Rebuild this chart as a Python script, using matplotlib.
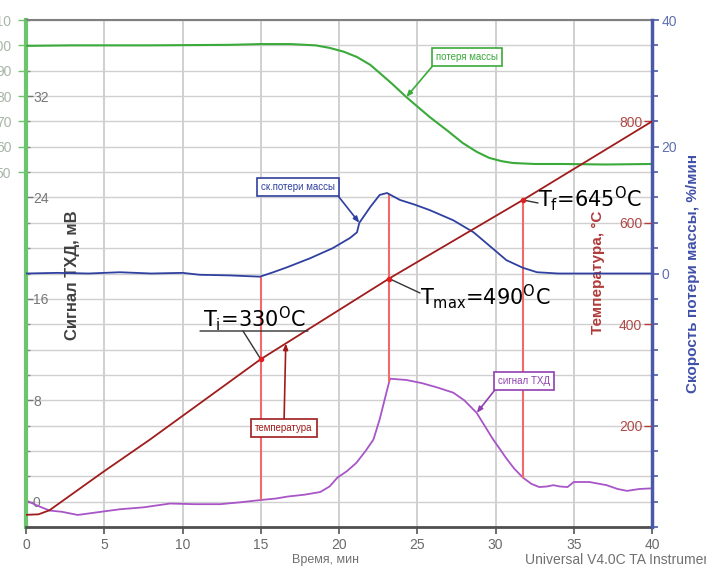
import numpy as np
import matplotlib
matplotlib.use("Agg")
import matplotlib.pyplot as plt
from matplotlib.ticker import MultipleLocator

# ---------------- data ----------------
time_mass = [0, 3, 8, 13, 15, 16.9, 18.5, 19.4, 20.3, 21.15, 22.0, 22.6, 23.4, 24.3,
             25.8, 27.0, 27.9, 28.8, 29.6, 30.4, 31.1, 32.5, 34.3, 37, 40]
mass = [99.8, 100.0, 100.0, 100.2, 100.5, 100.5, 100.0, 99.0, 97.5, 95.4, 92.3, 89.1,
        84.8, 79.6, 71.7, 66.0, 61.5, 58.0, 55.6, 54.3, 53.6, 53.2, 53.2, 53.0, 53.2]

time_dtg = [0, 2, 4, 6, 8, 10, 11.1, 13, 14.95, 15.8, 16.7, 18.15, 19.6, 20.7, 21.15,
            21.3, 22.0, 22.6, 23.07, 23.9, 24.8, 25.8, 27.3, 28.6, 29.7, 30.7, 31.75,
            32.65, 34, 36, 38, 40]
dtg = [0.0, 0.1, 0.0, 0.2, 0.0, 0.1, -0.2, -0.3, -0.5, 0.2, 1.0, 2.4, 4.0, 5.6, 6.5,
       8.0, 10.5, 12.4, 12.7, 11.6, 10.9, 10.0, 8.4, 6.5, 4.2, 2.1, 0.9, 0.2, 0.0, 0.0,
       0.0, 0.0]

time_dta = [0, 0.7, 1.5, 2.3, 3.3, 4.5, 6.0, 7.5, 9.2, 10.8, 12.4, 13.7, 15.0, 16.0,
            16.7, 17.8, 18.8, 19.4, 19.9, 20.5, 21.1, 21.7, 22.2, 22.6, 23.07, 23.26,
            24.3, 25.3, 26.3, 27.3, 28.0, 28.8, 29.8, 30.7, 31.2, 31.75, 32.3, 32.8,
            33.3, 33.7, 34.1, 34.6, 35.0, 36.0, 37.1, 37.8, 38.4, 39.2, 40]
dta = [0.1, -0.3, -0.7, -0.8, -1.05, -0.85, -0.6, -0.45, -0.15, -0.2, -0.2, -0.05,
       0.13, 0.25, 0.4, 0.55, 0.76, 1.2, 1.9, 2.4, 3.05, 4.0, 4.9, 6.5, 8.8, 9.7, 9.6,
       9.35, 9.0, 8.6, 8.0, 7.0, 5.0, 3.4, 2.6, 1.9, 1.4, 1.15, 1.2, 1.3, 1.2, 1.15,
       1.55, 1.55, 1.3, 1.0, 0.85, 1.0, 1.05]

time_temp = [0, 0.8, 1.5, 4.9, 7.9, 15.0, 23.2, 31.75, 40]
temp = [24, 25, 33, 108, 172, 331, 490, 645, 800]

event_times = [15.0, 23.2, 31.75]
event_labels = [r"T$_\mathregular{i}$=330$^\mathregular{O}$C",
                r"T$_\mathregular{max}$=490$^\mathregular{O}$C",
                r"T$_\mathregular{f}$=645$^\mathregular{O}$C"]

mass_ticks = [50, 60, 70, 80, 90, 100, 110]
dtg_ticks = [0, 20, 40]
temp_ticks = [200, 400, 600, 800]

# ---------------- style ----------------
plt.rcParams['font.family'] = ['Liberation Sans Narrow', 'Liberation Sans', 'DejaVu Sans']

GREEN = '#3aaa3a'
BLUE = '#3040a0'
RED = '#a01c1c'
PURPLE = '#a855c8'
VLINE = '#f06a6a'

fig = plt.figure(figsize=(7.06, 5.70), dpi=100)
ax = fig.add_axes([26/706, 43/570, 626/706, 507/570])

ax.set_xlim(0, 40)
ax.set_ylim(-2, 38)
ax.xaxis.set_major_locator(MultipleLocator(5))
ax.yaxis.set_major_locator(MultipleLocator(8))
ax.yaxis.set_minor_locator(MultipleLocator(2))
ax.set_axisbelow(True)
ax.grid(True, which='major', axis='x', color='#c8c8c8', lw=1.2)
ax.grid(True, which='both', axis='y', color='#d0d0d0', lw=1.0)
ax.tick_params(axis='x', direction='out', length=5, width=1.2, color='#555555',
               labelcolor='#6a6a6a', labelsize=10, pad=3)
ax.tick_params(axis='y', which='major', direction='in', length=5, width=1,
               color='#777777', labelcolor='#777777', labelsize=10, pad=-5)
ax.tick_params(axis='y', which='minor', direction='in', length=3, width=1, color='#888888')
ax.set_yticks([0, 8, 16, 24, 32])
plt.setp(ax.get_yticklabels(), ha='left')
ax.spines['left'].set_color('#6cc46c')
ax.spines['left'].set_linewidth(3)
ax.spines['right'].set_visible(False)
ax.spines['top'].set_color('#808080')
ax.spines['top'].set_linewidth(1.5)
ax.spines['bottom'].set_color('#505050')
ax.spines['bottom'].set_linewidth(2)

ax.plot(time_dta, dta, color=PURPLE, lw=1.3)

# mass axis (outer left, labels cut by the figure edge as in the original)
axm = ax.twinx()
axm.set_ylim(-90, 110)
axm.yaxis.set_ticks_position('left')
axm.set_yticks(mass_ticks)
axm.tick_params(axis='y', direction='out', length=6, width=1, color='#6cc46c',
                labelcolor='#a8b4a8', labelsize=10, pad=4.5)
for s in axm.spines.values():
    s.set_visible(False)
axm.plot(time_mass, mass, color=GREEN, lw=1.5)

# DTG axis (right, blue)
axd = ax.twinx()
axd.set_ylim(-40, 40)
axd.set_yticks(dtg_ticks)
axd.yaxis.set_minor_locator(MultipleLocator(4))
axd.tick_params(axis='y', which='major', direction='out', length=5, width=1.2,
                color='#4a5aa8', labelcolor='#6070b0', labelsize=10, pad=2)
axd.tick_params(axis='y', which='minor', direction='out', length=4, width=1.2,
                color='#4a5aa8')
for k, s in axd.spines.items():
    s.set_visible(k == 'right')
axd.spines['right'].set_color('#4a5aa8')
axd.spines['right'].set_linewidth(2.5)
axd.plot(time_dtg, dtg, color=BLUE, lw=1.3)

# temperature axis (inner right, red)
axt = ax.twinx()
axt.set_ylim(0, 1000)
axt.set_yticks(temp_ticks)
axt.tick_params(axis='y', direction='in', length=6, width=1, color='#b04040',
                labelcolor='#b04848', labelsize=10, pad=-7)
plt.setp(axt.get_yticklabels(), ha='right')
for s in axt.spines.values():
    s.set_visible(False)
axt.plot(time_temp, temp, color=RED, lw=1.3)

# ---------------- event lines ----------------
fig.canvas.draw()


def to_main(src, x, y):
    return ax.transData.inverted().transform(src.transData.transform((x, y)))[1]


tops = [to_main(axd, event_times[0], np.interp(event_times[0], time_dtg, dtg)),
        to_main(axd, event_times[1], np.interp(event_times[1], time_dtg, dtg)),
        to_main(axt, event_times[2], np.interp(event_times[2], time_temp, temp))]
bottoms = [np.interp(t, time_dta, dta) for t in event_times]
ax.vlines(event_times, bottoms, tops, color=VLINE, lw=1.5, zorder=3)

ev_temps = [np.interp(t, time_temp, temp) for t in event_times]
axt.plot(event_times, ev_temps, 'o', ms=3, color='#e02020', zorder=5)

tfont = dict(family=['DejaVu Sans'], fontsize=15, color='black')
# Ti
axt.text(203, 243, event_labels[0], transform=None, ha='left', va='baseline', **tfont)
axt.annotate('', xy=(308, 239), xytext=(200, 239), xycoords='figure pixels',
             arrowprops=dict(arrowstyle='-', color='#333333', lw=1, shrinkA=0, shrinkB=0))
axt.annotate('', xy=(event_times[0], ev_temps[0]), xytext=(243, 239),
             textcoords='figure pixels',
             arrowprops=dict(arrowstyle='-', color='#333333', lw=1, shrinkA=0, shrinkB=0))
# Tmax
axt.text(420, 265, event_labels[1], transform=None, ha='left', va='baseline', **tfont)
axt.annotate('', xy=(event_times[1], ev_temps[1]), xytext=(420, 277),
             textcoords='figure pixels',
             arrowprops=dict(arrowstyle='-', color='#333333', lw=1, shrinkA=0, shrinkB=0))
# Tf
axt.text(538, 363, event_labels[2], transform=None, ha='left', va='baseline', **tfont)
axt.annotate('', xy=(event_times[2], ev_temps[2]), xytext=(538, 367),
             textcoords='figure pixels',
             arrowprops=dict(arrowstyle='-', color='#333333', lw=1, shrinkA=0, shrinkB=0))

# ---------------- curve labels ----------------
def box_label(src, text, x_data, y_data, fx, fy, color, relpos):
    src.annotate(text, xy=(x_data, y_data), xytext=(fx, fy), textcoords='figure pixels',
                 ha='center', va='center', fontsize=7, color=color,
                 bbox=dict(boxstyle='square,pad=0.4', fc='white', ec=color, lw=1.2),
                 arrowprops=dict(arrowstyle='-|>,head_length=0.5,head_width=0.2',
                                 color=color, lw=1.2, relpos=relpos, shrinkA=0, shrinkB=0),
                 zorder=6)


box_label(axm, 'потеря массы', 24.3, np.interp(24.3, time_mass, mass), 467, 513,
          GREEN, (0, 0))
box_label(axd, 'ск.потери массы', 21.3, np.interp(21.3, time_dtg, dtg), 298, 383,
          BLUE, (1, 0))
box_label(axt, 'температура', 16.6, np.interp(16.6, time_temp, temp), 284, 142,
          RED, (0.5, 1))
box_label(ax, 'сигнал ТХД', 28.8, np.interp(28.8, time_dta, dta), 524, 189,
          '#9040b0', (0, 0))

# ---------------- axis titles ----------------
ax.text(72/706, 1 - 275/570, 'Сигнал ТХД, мВ', transform=fig.transFigure, rotation=90,
        ha='center', va='center', fontsize=12, color='#404040', fontweight='bold')
ax.text(598/706, 1 - 272/570, 'Температура, °C', transform=fig.transFigure, rotation=90,
        ha='center', va='center', fontsize=11, color='#b03a3a', fontweight='bold')
fig.text(693/706, 1 - 273/570, 'Скорость потери массы, %/мин', rotation=90,
         ha='center', va='center', fontsize=11, color='#4050a8', fontweight='bold')
fig.text(325/706, 1 - 560/570, 'Время, мин', ha='center', va='center', fontsize=9,
         color='#707070')
fig.text(525/706, 1 - 560/570, 'Universal V4.0C TA Instruments', ha='left', va='center',
         fontsize=10, color='#707070')

fig.savefig('out.png', dpi=100)
